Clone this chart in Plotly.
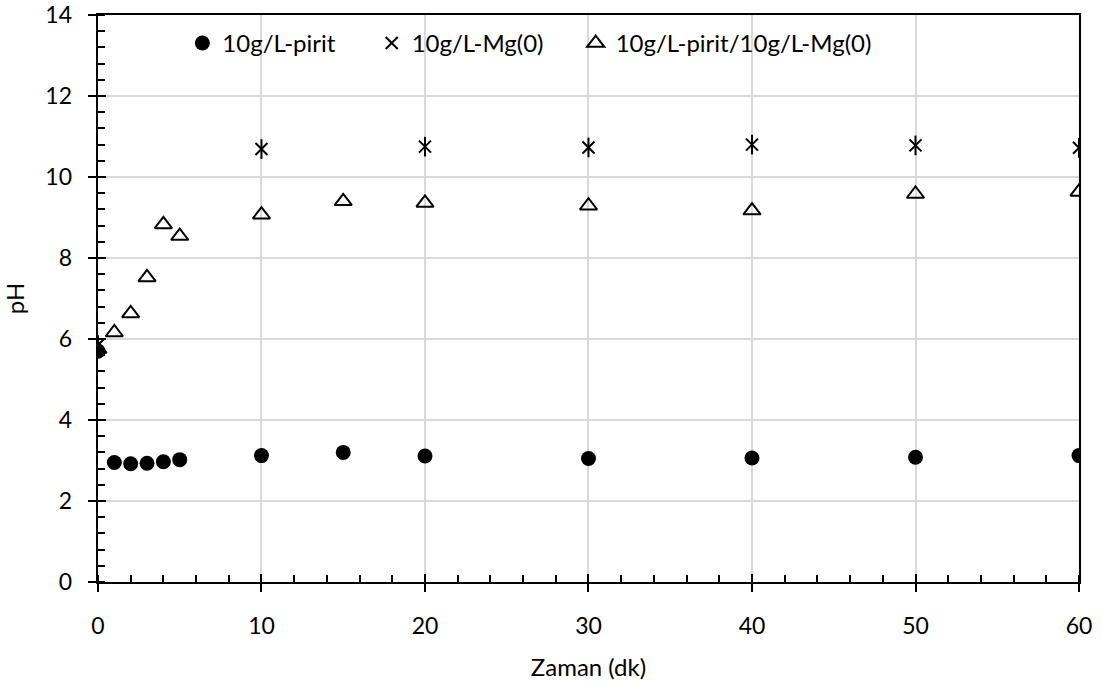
import plotly.graph_objects as go

# Sampling times (minutes)
t_pirit = [0, 1, 2, 3, 4, 5, 10, 15, 20, 30, 40, 50, 60]
ph_pirit = [5.70, 2.95, 2.92, 2.93, 2.97, 3.02, 3.12, 3.20, 3.11, 3.05, 3.06, 3.08, 3.12]

t_mg = [0, 10, 20, 30, 40, 50, 60]
ph_mg = [5.85, 10.69, 10.75, 10.73, 10.80, 10.78, 10.72]

t_mix = [0, 1, 2, 3, 4, 5, 10, 15, 20, 30, 40, 50, 60]
ph_mix = [5.75, 6.16, 6.63, 7.52, 8.83, 8.54, 9.07, 9.40, 9.36, 9.29, 9.17, 9.58, 9.63]

x_ticks = [0, 10, 20, 30, 40, 50, 60]
y_ticks = [0, 2, 4, 6, 8, 10, 12, 14]

FONT = "Lato"
X_RANGE = [0, 60]
Y_RANGE = [0, 14]

fig = go.Figure()

fig.add_trace(go.Scatter(
    x=t_pirit, y=ph_pirit, mode="markers", name="10g/L-pirit",
    marker=dict(symbol="circle", size=15, color="black"),
    legend="legend",
))
fig.add_trace(go.Scatter(
    x=t_mg, y=ph_mg, mode="markers", name="10g/L-Mg(0)",
    marker=dict(symbol="x-thin-open", size=12, color="black",
                line=dict(width=2, color="black")),
    legendgroup="mg", legend="legend2",
))
# vertical stroke completing the star marker
fig.add_trace(go.Scatter(
    x=t_mg, y=ph_mg, mode="markers", showlegend=False, legendgroup="mg",
    marker=dict(symbol="line-ns-open", size=14, color="black",
                line=dict(width=2, color="black")),
))
fig.add_trace(go.Scatter(
    x=t_mix, y=ph_mix, mode="markers", name="10g/L-pirit/10g/L-Mg(0)",
    marker=dict(symbol="triangle-up-open", size=15, color="black",
                line=dict(width=2, color="black")),
    legend="legend3",
))

# empty traces so the overlay axes (frame + ticks) get drawn
for xa, ya in (("x2", "y2"), ("x3", "y3")):
    fig.add_trace(go.Scatter(x=[X_RANGE[0]], y=[Y_RANGE[0]], xaxis=xa, yaxis=ya,
                             mode="markers", marker=dict(opacity=0),
                             showlegend=False, hoverinfo="skip"))

# label axes: free-positioned so the labels sit a little away from the frame
label_axis = dict(
    anchor="free", position=0, showline=False, ticks="", zeroline=False,
    gridcolor="#d9d9d9", gridwidth=2, automargin=False,
    tickfont=dict(family=FONT, size=23, color="black"),
)
# frame axes: black box, outward major ticks, inward minor ticks
frame_axis = dict(
    showline=True, linecolor="black", linewidth=2, mirror=True,
    ticks="outside", ticklen=8, tickwidth=2, tickcolor="black",
    showticklabels=False, showgrid=False, zeroline=False, automargin=False,
)
# inward half of the major ticks
inner_axis = dict(
    ticks="inside", ticklen=8, tickwidth=2, tickcolor="black",
    showticklabels=False, showgrid=False, zeroline=False, showline=False,
    automargin=False,
)

legend_common = dict(
    orientation="h", yanchor="top", y=0.99, xanchor="left",
    bgcolor="rgba(0,0,0,0)", font=dict(family=FONT, size=24, color="black"),
    itemwidth=30,
)

fig.update_layout(
    width=1102, height=687,
    margin=dict(l=72, r=23, t=15, b=77),
    paper_bgcolor="white", plot_bgcolor="white",
    font=dict(family=FONT, size=23, color="black"),
    xaxis=dict(
        range=X_RANGE, tickvals=x_ticks, domain=[0.0258, 1], **label_axis,
        title=dict(text="Zaman (dk)", font=dict(family=FONT, size=24), standoff=21),
    ),
    yaxis=dict(
        range=Y_RANGE, tickvals=y_ticks, domain=[0.0471, 1], **label_axis,
        title=dict(text="pH", font=dict(family=FONT, size=24), standoff=17),
    ),
    xaxis2=dict(range=X_RANGE, tickvals=x_ticks, overlaying="x", anchor="y",
                side="bottom", **frame_axis,
                minor=dict(dtick=2, ticks="inside", ticklen=7, tickwidth=2,
                           tickcolor="black", showgrid=False)),
    yaxis2=dict(range=Y_RANGE, tickvals=y_ticks, overlaying="y", anchor="x",
                side="left", **frame_axis,
                minor=dict(dtick=0.4, ticks="inside", ticklen=7, tickwidth=2,
                           tickcolor="black", showgrid=False)),
    xaxis3=dict(range=X_RANGE, tickvals=x_ticks, overlaying="x", anchor="y",
                side="bottom", **inner_axis),
    yaxis3=dict(range=Y_RANGE, tickvals=y_ticks, overlaying="y", anchor="x",
                side="left", **inner_axis),
    legend=dict(x=0.1096, **legend_common),
    legend2=dict(x=0.2976, **legend_common),
    legend3=dict(x=0.5002, **legend_common),
)

fig.write_html("out.html")
